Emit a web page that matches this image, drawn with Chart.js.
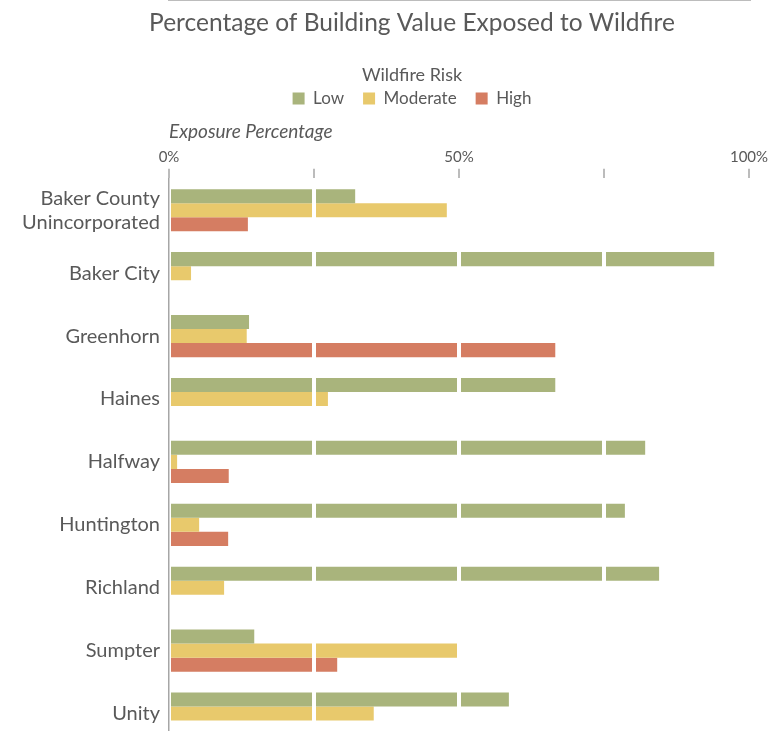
<!DOCTYPE html>
<html>
<head>
<meta charset="utf-8">
<script src="https://cdn.jsdelivr.net/npm/chart.js@4"></script>
<style>
  body { margin: 0; overflow: hidden; background: #fff; }
  canvas { display: block; }
</style>
</head>
<body>
<canvas id="wildfireChart" width="824" height="780"></canvas>
<script>
const places = [['Baker County', 'Unincorporated'], 'Baker City', 'Greenhorn', 'Haines', 'Halfway',
    'Huntington', 'Richland', 'Sumpter', 'Unity'];
const lowRisk = [32.1, 94.0, 13.8, 66.6, 82.1, 78.6, 84.5, 14.7, 58.6];
const moderateRisk = [47.9, 3.8, 13.4, 27.4, 1.4, 5.2, 9.5, 50.2, 35.3];
const highRisk = [13.6, 0, 66.6, 0, 10.3, 10.2, 0, 29.0, 0];
const tickLabels = { 0: '0%', 50: '50%', 100: '100%' };

const textColor = '#595959';
const fontName = 'Lato';

function createChart() {
    const ctx = document.getElementById('wildfireChart').getContext('2d');
    return new Chart(ctx, {
        type: 'bar',
        data: {
            labels: places,
            datasets: [
                { label: 'Low', data: lowRisk, backgroundColor: '#a9b47c' },
                { label: 'Moderate', data: moderateRisk, backgroundColor: '#e8c96c' },
                { label: 'High', data: highRisk, backgroundColor: '#d57d62' }
            ]
        },
        options: {
            indexAxis: 'y',
            responsive: false,
            animation: false,
            datasets: {
                bar: { categoryPercentage: 0.67, barPercentage: 1.0 }
            },
            layout: { padding: { left: 0, right: 0, top: 8, bottom: 35 } },
            scales: {
                x: {
                    position: 'top',
                    min: 0,
                    max: 100,
                    ticks: {
                        stepSize: 25,
                        color: textColor,
                        font: { family: fontName, size: 15 },
                        padding: 3,
                        maxRotation: 0,
                        callback: value => tickLabels[value] || ''
                    },
                    grid: {
                        z: 1,
                        lineWidth: 4,
                        // white lines cut through the bars, none at 0
                        color: c => (c.tick && c.tick.value === 0) ? 'rgba(0,0,0,0)' : '#ffffff',
                        drawTicks: true,
                        tickLength: 10,
                        tickWidth: 1.5,
                        tickColor: '#a6a6a6'
                    },
                    border: { display: true, color: '#a6a6a6', width: 1.5 },
                    title: {
                        display: true,
                        text: 'Exposure Percentage',
                        align: 'start',
                        color: textColor,
                        font: { family: fontName, size: 19, style: 'italic' },
                        padding: { top: 3, bottom: 2 }
                    }
                },
                y: {
                    ticks: {
                        color: textColor,
                        font: { family: fontName, size: 20 },
                        padding: 9
                    },
                    grid: { display: false, drawTicks: false },
                    border: { display: true, color: '#a6a6a6', width: 1.5 },
                    afterFit: scale => { scale.width = 169; }
                },
                // empty right-hand axis, keeps the plot ending at 100% while the titles stay centred
                yRight: {
                    type: 'category',
                    position: 'right',
                    ticks: { display: false },
                    grid: { display: false, drawTicks: false },
                    border: { display: false },
                    afterFit: scale => { scale.width = 75; }
                }
            },
            plugins: {
                title: {
                    display: true,
                    text: 'Percentage of Building Value Exposed to Wildfire',
                    color: textColor,
                    font: { family: fontName, size: 24.5, weight: 'normal' },
                    padding: { top: 0, bottom: 29 }
                },
                legend: {
                    display: true,
                    position: 'top',
                    title: {
                        display: true,
                        text: 'Wildfire Risk',
                        color: textColor,
                        font: { family: fontName, size: 18 },
                        padding: { top: 0, bottom: -17 }
                    },
                    labels: {
                        color: textColor,
                        font: { family: fontName, size: 17 },
                        boxWidth: 12,
                        boxHeight: 12,
                        padding: 19
                    }
                },
                tooltip: { enabled: false }
            }
        }
    });
}

createChart();
</script>
</body>
</html>
